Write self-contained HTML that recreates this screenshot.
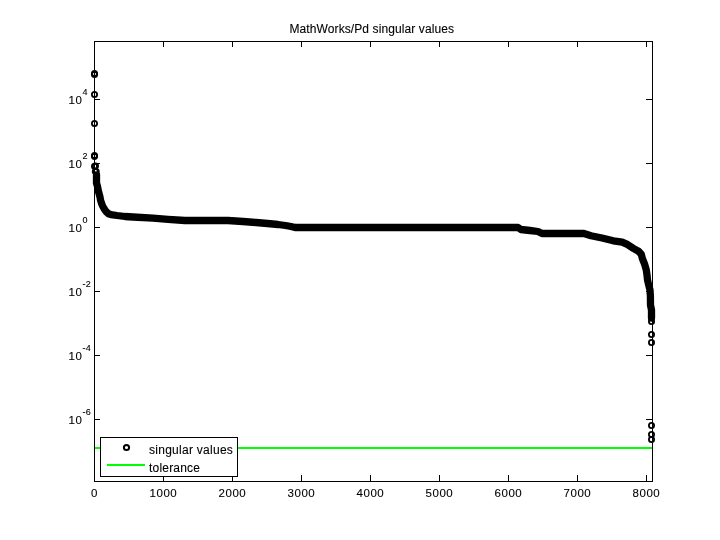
<!DOCTYPE html>
<html><head><meta charset="utf-8"><title>MathWorks/Pd singular values</title>
<style>
html,body{margin:0;padding:0;background:#fff;}
body{width:720px;height:540px;overflow:hidden;}
svg{display:block;}
text{letter-spacing:0.1px;font-family:"Liberation Sans",Arial,Helvetica,sans-serif;font-size:12px;fill:#000;stroke:#000;stroke-width:0.1px;}
text.e{font-size:9px;}
g.t text{font-size:11.5px;letter-spacing:0.55px;}
g.t text.e{font-size:9px;letter-spacing:0.1px;}
</style></head><body>
<svg width="720" height="540" viewBox="0 0 720 540">
<rect width="720" height="540" fill="#fff"/>
<text x="371.8" y="33" text-anchor="middle">MathWorks/Pd singular values</text>
<g fill="#000" shape-rendering="crispEdges">
<rect x="94" y="41" width="559" height="1"/><rect x="94" y="481" width="559" height="1"/>
<rect x="94" y="41" width="1" height="441"/><rect x="652" y="41" width="1" height="441"/>
<rect x="94" y="475" width="1" height="6"/><rect x="94" y="42" width="1" height="5"/><rect x="163" y="475" width="1" height="6"/><rect x="163" y="42" width="1" height="5"/><rect x="232" y="475" width="1" height="6"/><rect x="232" y="42" width="1" height="5"/><rect x="301" y="475" width="1" height="6"/><rect x="301" y="42" width="1" height="5"/><rect x="370" y="475" width="1" height="6"/><rect x="370" y="42" width="1" height="5"/><rect x="439" y="475" width="1" height="6"/><rect x="439" y="42" width="1" height="5"/><rect x="508" y="475" width="1" height="6"/><rect x="508" y="42" width="1" height="5"/><rect x="577" y="475" width="1" height="6"/><rect x="577" y="42" width="1" height="5"/><rect x="646" y="475" width="1" height="6"/><rect x="646" y="42" width="1" height="5"/><rect x="95" y="99" width="5" height="1"/><rect x="646" y="99" width="6" height="1"/><rect x="95" y="163" width="5" height="1"/><rect x="646" y="163" width="6" height="1"/><rect x="95" y="227" width="5" height="1"/><rect x="646" y="227" width="6" height="1"/><rect x="95" y="291" width="5" height="1"/><rect x="646" y="291" width="6" height="1"/><rect x="95" y="355" width="5" height="1"/><rect x="646" y="355" width="6" height="1"/><rect x="95" y="419" width="5" height="1"/><rect x="646" y="419" width="6" height="1"/>
</g>
<g class="t"><text x="94.4" y="497" text-anchor="middle">0</text><text x="163.4" y="497" text-anchor="middle">1000</text><text x="232.4" y="497" text-anchor="middle">2000</text><text x="301.4" y="497" text-anchor="middle">3000</text><text x="370.4" y="497" text-anchor="middle">4000</text><text x="439.4" y="497" text-anchor="middle">5000</text><text x="508.4" y="497" text-anchor="middle">6000</text><text x="577.4" y="497" text-anchor="middle">7000</text><text x="646.4" y="497" text-anchor="middle">8000</text><text x="82.4" y="104" text-anchor="end">10</text><text x="82.6" y="95" class="e">4</text><text x="82.4" y="168" text-anchor="end">10</text><text x="82.6" y="159" class="e">2</text><text x="82.4" y="232" text-anchor="end">10</text><text x="82.6" y="223" class="e">0</text><text x="82.4" y="296" text-anchor="end">10</text><text x="82.6" y="287" class="e">-2</text><text x="82.4" y="360" text-anchor="end">10</text><text x="82.6" y="351" class="e">-4</text><text x="82.4" y="424" text-anchor="end">10</text><text x="82.6" y="415" class="e">-6</text></g>
<rect x="95" y="447" width="557" height="2" fill="#00ff00" shape-rendering="crispEdges"/>
<path d="M96.5,175 L96.5,183 L97.5,186.5 L98.5,191.5 L100,197 L100.5,200 L101.5,203.3 L102.7,206.1 L104.2,208.9 L106,211.5 L108.5,213.7 L111,214.6 L117,215.5 L125,216.5 L133,217 L153,218.2 L168,219.4 L185,220.5 L228,220.5 L243,221.5 L256,222.5 L267.5,223.5 L278,224.5 L285.5,225.5 L291,226.5 L295,227.5 L518,227.5 L521,229.5 L530,230.5 L538,231.5 L542,233.5 L584,233.5 L591,235.7 L602,238 L613.3,240.8 L622.2,242.2 L627.8,244.7 L633.3,248.4 L638.5,251.2 L641.3,254.3 L642.5,258.9 L644.7,264.4 L646.3,270 L647,275 L647.5,280 L648.7,285 L650,290 L650.4,296 L650.5,305 L651.5,310 L651.5,318" fill="none" stroke="#000" stroke-width="7.3" stroke-linejoin="round" stroke-linecap="round"/>
<g fill="none" stroke="#000" stroke-width="1.8"><circle cx="94.5" cy="73.5" r="2.6"/><circle cx="94.5" cy="74.5" r="2.6"/><circle cx="94.5" cy="94.5" r="2.6"/><circle cx="94.5" cy="123.5" r="2.6"/><circle cx="94.5" cy="155.5" r="2.6"/><circle cx="94.5" cy="156.5" r="2.6"/><circle cx="94.5" cy="166.3" r="2.6"/><circle cx="95.5" cy="166" r="2.6"/><circle cx="95.3" cy="171.5" r="2.6"/><circle cx="96.2" cy="171.5" r="2.6"/><circle cx="651.5" cy="321.5" r="2.6"/><circle cx="651.5" cy="334.5" r="2.6"/><circle cx="651.5" cy="342.5" r="2.6"/><circle cx="651.5" cy="425.5" r="2.6"/><circle cx="651.5" cy="434.5" r="2.6"/><circle cx="651.5" cy="439.5" r="2.6"/></g>
<g shape-rendering="crispEdges">
<rect x="100.5" y="437.5" width="137" height="39" fill="#fff" stroke="#000" stroke-width="1"/>
<rect x="107" y="464" width="38" height="2" fill="#00ff00"/>
</g>
<circle cx="126.5" cy="447.5" r="2.6" fill="none" stroke="#000" stroke-width="2"/>
<text x="149" y="454" style="letter-spacing:0.27px">singular values</text>
<text x="149" y="471.5" style="letter-spacing:0.2px">tolerance</text>
</svg>
</body></html>
